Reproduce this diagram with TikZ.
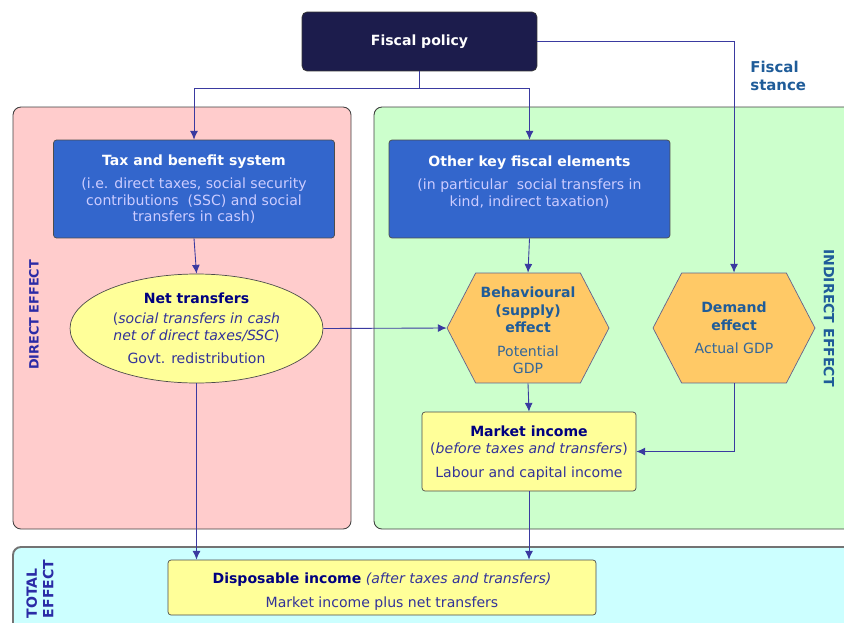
\documentclass[tikz,border=0pt]{standalone}
\usepackage{fontspec}
\setmainfont{DejaVu Sans}
\usetikzlibrary{arrows.meta,shapes.geometric,shapes.symbols}
\definecolor{policyfill}{HTML}{1C1C4C}
\definecolor{taxfill}{HTML}{3366CC}
\definecolor{lavender}{HTML}{CCCCFF}
\definecolor{pinkbg}{HTML}{FFCCCC}
\definecolor{greenbg}{HTML}{CCFFCC}
\definecolor{cyanbg}{HTML}{CCFFFF}
\definecolor{paleyellow}{HTML}{FFFF99}
\definecolor{hexfill}{HTML}{FFC966}
\definecolor{navytext}{HTML}{000080}
\definecolor{subtext}{HTML}{333399}
\definecolor{steel}{HTML}{1F5C99}
\definecolor{steellight}{HTML}{336699}
\definecolor{linkblue}{HTML}{3A3AA0}
\definecolor{effectblue}{HTML}{2B2BA6}
\tikzset{
  txt/.style={font=\fontsize{8}{9.4}\selectfont, align=center, inner sep=0pt},
  panel/.style={draw=black!75, line width=0.5pt, rounded corners=0.16cm},
  bluebox/.style={txt, rectangle, draw=black!70, fill=taxfill, text=white,
    rounded corners=0.06cm, minimum width=5.62cm, minimum height=1.96cm},
  yellowbox/.style={txt, rectangle, draw=black!70, fill=paleyellow,
    text=subtext, rounded corners=0.06cm},
  hexa/.style={txt, signal, signal to=east and west, signal pointer angle=125,
    draw=subtext!60!black!70, fill=hexfill, text=steellight,
    minimum width=3.24cm, minimum height=2.2cm},
  conn/.style={draw=linkblue, line width=0.5pt, -{Latex[length=5pt,width=4.5pt]}},
  effect/.style={font=\fontsize{8}{9.4}\selectfont\bfseries, inner sep=0pt}
}
\begin{document}
\begin{tikzpicture}[x=0.02cm, y=-0.02cm]
  \path[use as bounding box, clip] (0,0) rectangle (844,622);
  % panels
  \path[panel, fill=pinkbg] (13,107) rectangle (351,529);
  \path[panel, fill=greenbg] (374,107) rectangle (870,529);
  \path[panel, draw=black!55, line width=1.1pt, fill=cyanbg] (13,547) rectangle (870,650);
  \node[effect, text=effectblue, rotate=90, font=\fontsize{7.3}{9}\selectfont\bfseries]
    (directlab) at (34,315) {DIRECT EFFECT};
  \node[effect, text=steel, rotate=-90] (indirectlab) at (829,318) {INDIRECT EFFECT};
  \node[effect, text=effectblue, rotate=90, align=left] (totallab) at (40,589) {TOTAL\\EFFECT};

  % boxes
  \node[txt, rectangle, fill=policyfill, draw=black!80, text=white, rounded corners=0.1cm,
    minimum width=4.7cm, minimum height=1.18cm, font=\fontsize{8}{9.4}\selectfont\bfseries]
    (policy) at (419.5,41.5) {Fiscal policy};
  \node[txt, anchor=north west, align=left, text=steel,
    font=\fontsize{8.5}{10.2}\selectfont\bfseries] (stance) at (750,61) {Fiscal\\stance};
  \node[bluebox] (tax) at (194,189) {\textbf{Tax and benefit system}\\[4pt]
    \color{lavender}(i.e. direct taxes, social security\\
    \color{lavender}contributions~ (SSC) and social\\
    \color{lavender}transfers in cash)};
  \node[bluebox] (other) at (529.5,189) {\textbf{Other key fiscal elements}\\[4pt]
    \color{lavender}(in particular~ social transfers in\\
    \color{lavender}kind, indirect taxation)\\ \mbox{}};
  \node[txt, ellipse, draw=black!70, fill=paleyellow, text=subtext,
    minimum width=5.06cm, minimum height=2.18cm] (net) at (196.5,328.5)
    {\textcolor{navytext}{\textbf{Net transfers}}\\[2pt]
     (\textit{social transfers in cash}\\
     \textit{net of direct taxes/SSC})\\[4pt]
     Govt. redistribution};
  \node[hexa] (beh) at (528,328) {\rule{0pt}{9pt}\textcolor{steel}{\textbf{Behavioural}}\\[0.6pt]
    \textcolor{steel}{\textbf{(supply)}}\\[0.6pt]
    \textcolor{steel}{\textbf{effect}}\\[4pt]
    Potential\\[0.6pt]GDP};
  \node[hexa] (dem) at (734,328) {\textcolor{steel}{\textbf{Demand}}\\[0.6pt]
    \textcolor{steel}{\textbf{effect}}\\[4pt]
    Actual GDP};
  \node[yellowbox, minimum width=4.28cm, minimum height=1.58cm] (market) at (529,451.5)
    {\rule{0pt}{8pt}\textcolor{navytext}{\textbf{Market income}}\\
     (\textit{before taxes and transfers})\\[4.5pt]
     Labour and capital income};
  \node[yellowbox, minimum width=8.56cm, minimum height=1.1cm] (disp) at (382,587.5)
    {\rule{0pt}{11pt}\textcolor{navytext}{\textbf{Disposable income}} \textit{(after taxes and transfers)}\\[4pt]
     Market income plus net transfers};

  % connectors
  \coordinate (split) at (419.5,88);
  \draw[conn] (policy.south) -- (split) -| (tax.north);
  \draw[conn] (split) -| (other.north);
  \draw[conn] (policy.east) -| (dem.north);
  \draw[conn] (tax.south) -- (net.north);
  \draw[conn] (other.south) -- (beh.north);
  \draw[conn] (net.east) -- (beh.west);
  \draw[conn] (beh.south) -- (market.north);
  \draw[conn] (dem.south) |- (market.east);
  \draw[conn] (net.south) -- (net.south |- disp.north);
  \draw[conn] (market.south) -- (market.south |- disp.north);
\end{tikzpicture}
\end{document}
